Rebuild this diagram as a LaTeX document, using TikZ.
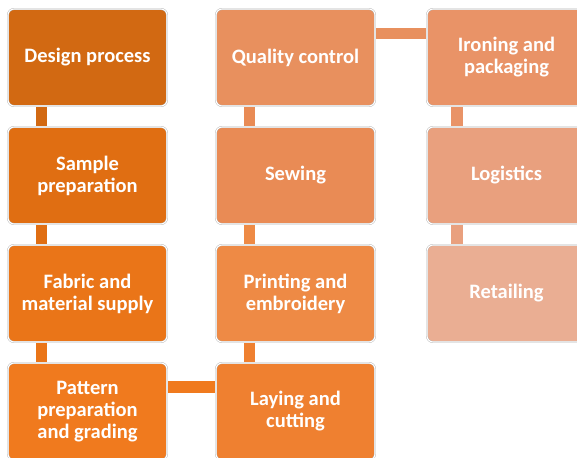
\documentclass[tikz,border=0pt]{standalone}
\usepackage{fontspec}
\setmainfont{Carlito}
\definecolor{c1}{RGB}{210,105,18}
\definecolor{c2}{RGB}{224,110,18}
\definecolor{c3}{RGB}{234,117,24}
\definecolor{c4}{RGB}{240,122,30}
\definecolor{c5}{RGB}{239,128,48}
\definecolor{c6}{RGB}{238,138,69}
\definecolor{c7}{RGB}{233,139,85}
\definecolor{c8}{RGB}{232,144,94}
\definecolor{c9}{RGB}{233,147,103}
\definecolor{c10}{RGB}{233,160,126}
\definecolor{c11}{RGB}{234,174,147}
\tikzset{
  box/.style={rectangle, rounded corners=6pt, minimum width=159pt, minimum height=97pt,
    draw=black!30, line width=0.4pt, double=white, double distance=1.1pt,
    text=white, align=center, font=\bfseries\fontsize{20.5}{22}\selectfont, inner sep=2pt},
  link/.style={draw=white, line width=0.5pt}
}
\begin{document}
\begin{tikzpicture}[x=1pt,y=-1pt]
\useasboundingbox (0,0) rectangle (577,457);
% connectors
\fill[c1, link] (35,100) rectangle (47,132);
\fill[c2, link] (35,218) rectangle (47,251);
\fill[c3, link] (35,336) rectangle (47,370);
\fill[c4, link] (160,380) rectangle (222,393);
\fill[c5, link] (243,336) rectangle (255,370);
\fill[c6, link] (243,218) rectangle (255,251);
\fill[c7, link] (243,100) rectangle (255,132);
\fill[c8, link] (370,27) rectangle (432,39);
\fill[c9, link] (450,100) rectangle (463,132);
\fill[c10, link] (450,218) rectangle (463,251);
% boxes
\node[box, fill=c1] (design) at (87.5,57.5) {Design process};
\node[box, fill=c2] (sample) at (87.5,175.5) {Sample\\preparation};
\node[box, fill=c3] (fabric) at (87.5,293.5) {Fabric and\\material supply};
\node[box, fill=c4] (pattern) at (87.5,411.5) {Pattern\\preparation\\and grading};
\node[box, fill=c5] (laying) at (295.5,411.5) {Laying and\\cutting};
\node[box, fill=c6] (printing) at (295.5,293.5) {Printing and\\embroidery};
\node[box, fill=c7] (sewing) at (295.5,175.5) {Sewing};
\node[box, fill=c8] (quality) at (295.5,57.5) {Quality control};
\node[box, fill=c9] (ironing) at (506.5,57.5) {Ironing and\\packaging};
\node[box, fill=c10] (logistics) at (506.5,175.5) {Logistics};
\node[box, fill=c11] (retailing) at (506.5,293.5) {Retailing};
\end{tikzpicture}
\end{document}
